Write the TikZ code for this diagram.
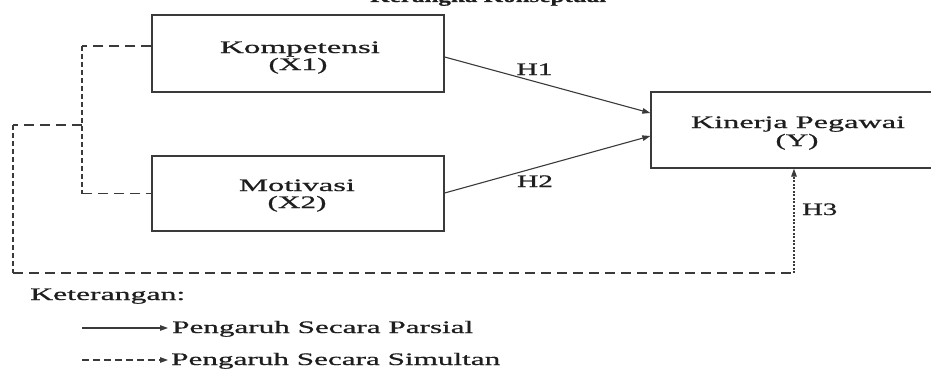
\documentclass[tikz,border=0pt]{standalone}
\usepackage{fontspec}
\setmainfont{Liberation Serif}[FakeBold=0.6]
\newfontfamily\titlefont{Liberation Serif Bold}[FakeBold=0.6]
\usetikzlibrary{arrows.meta}
\newcommand\fw[2]{\resizebox{#1}{\height}{#2}}
\definecolor{linec}{HTML}{3A3A3A}
\definecolor{txtc}{HTML}{1E1E1E}
\begin{document}
\begin{tikzpicture}[x=1pt,y=-1pt,
  box/.style={draw=linec, line width=1.3pt, inner sep=0pt, anchor=center},
  txt/.style={inner sep=0pt, text=txtc, font=\fontsize{17.5pt}{17.5pt}\selectfont},
  arr/.style={draw=linec, line width=1.1pt, -{Triangle[length=8pt,width=5.5pt]}},
  dh/.style={draw=linec, line width=1.3pt, dash pattern=on 10pt off 6pt},
  dv/.style={draw=linec, line width=1.3pt, dash pattern=on 5pt off 3pt},
  dotv/.style={draw=linec, line width=1.3pt, dash pattern=on 2pt off 1.5pt},
  ldash/.style={draw=linec, line width=1.1pt, dash pattern=on 7pt off 4pt}]
\useasboundingbox (0,0) rectangle (931,369);
\clip (0,0) rectangle (931,369);
\fill[white] (0,0) rectangle (931,369);

% title (cut off at top)
\node[txt, anchor=base west, font=\fontsize{17.5pt}{17.5pt}\titlefont] (title) at (370,2) {\fw{236pt}{Kerangka Konseptual}};

% boxes
\node[box, minimum width=292pt, minimum height=77pt] (kom) at (298,53.5) {};
\node[box, minimum width=292pt, minimum height=75pt] (mot) at (298,193.5) {};
\node[box, minimum width=294pt, minimum height=76pt] (kin) at (798,130) {};

% box texts
\node[txt, anchor=base] (komt1) at (300,53) {\fw{160pt}{Kompetensi}};
\node[txt, anchor=base] (komt2) at (298,70) {\fw{59pt}{(X1)}};
\node[txt, anchor=base] (mott1) at (297,191) {\fw{116pt}{Motivasi}};
\node[txt, anchor=base] (mott2) at (297,208) {\fw{59pt}{(X2)}};
\node[txt, anchor=base] (kint1) at (798,128) {\fw{214pt}{Kinerja Pegawai}};
\node[txt, anchor=base] (kint2) at (797,146) {\fw{43pt}{(Y)}};

% partial arrows
\draw[arr] ([yshift=-3.5pt]kom.east) -- ([yshift=17pt]kin.west);
\draw[arr] ([yshift=0.5pt]mot.east) -- ([yshift=-6pt]kin.west);
\node[txt, anchor=base] (h1) at (534.5,75) {\fw{36pt}{H1}};
\node[txt, anchor=base] (h2) at (535,187) {\fw{36pt}{H2}};

% simultaneous connector
\coordinate (a1) at (82,46);
\coordinate (a2) at (82,193.5);
\coordinate (j) at (82,125);
\coordinate (b1) at (13,125);
\coordinate (b2) at (13,273);
\coordinate (b3) at (794,273);
\draw[dh] ([yshift=7.5pt]kom.west) -- (a1);
\draw[dv] (a1) -- (a2);
\draw[dh] (a2) -- (mot.west);
\draw[dh] (j) -- (b1);
\draw[dv] (b1) -- (b2);
\draw[dh] (b2) -- (b3);
\draw[dotv, -{Triangle[length=8pt,width=5.5pt]}] (b3) -- (kin.south -| b3);
\node[txt, anchor=base west] (h3) at (802,215) {\fw{35pt}{H3}};

% legend
\node[txt, anchor=base west] (ket) at (30,300) {\fw{155pt}{Keterangan:}};
\coordinate (l1a) at (82,328);
\coordinate (l1b) at (168,328);
\coordinate (l2a) at (82,360);
\coordinate (l2b) at (168,360);
\draw[arr] (l1a) -- (l1b);
\draw[ldash, -{Triangle[length=8pt,width=5.5pt]}] (l2a) -- (l2b);
\node[txt, anchor=base west] (lp) at (172,333) {\fw{301pt}{Pengaruh Secara Parsial}};
\node[txt, anchor=base west] (ls) at (171,365) {\fw{329pt}{Pengaruh Secara Simultan}};
\end{tikzpicture}
\end{document}
